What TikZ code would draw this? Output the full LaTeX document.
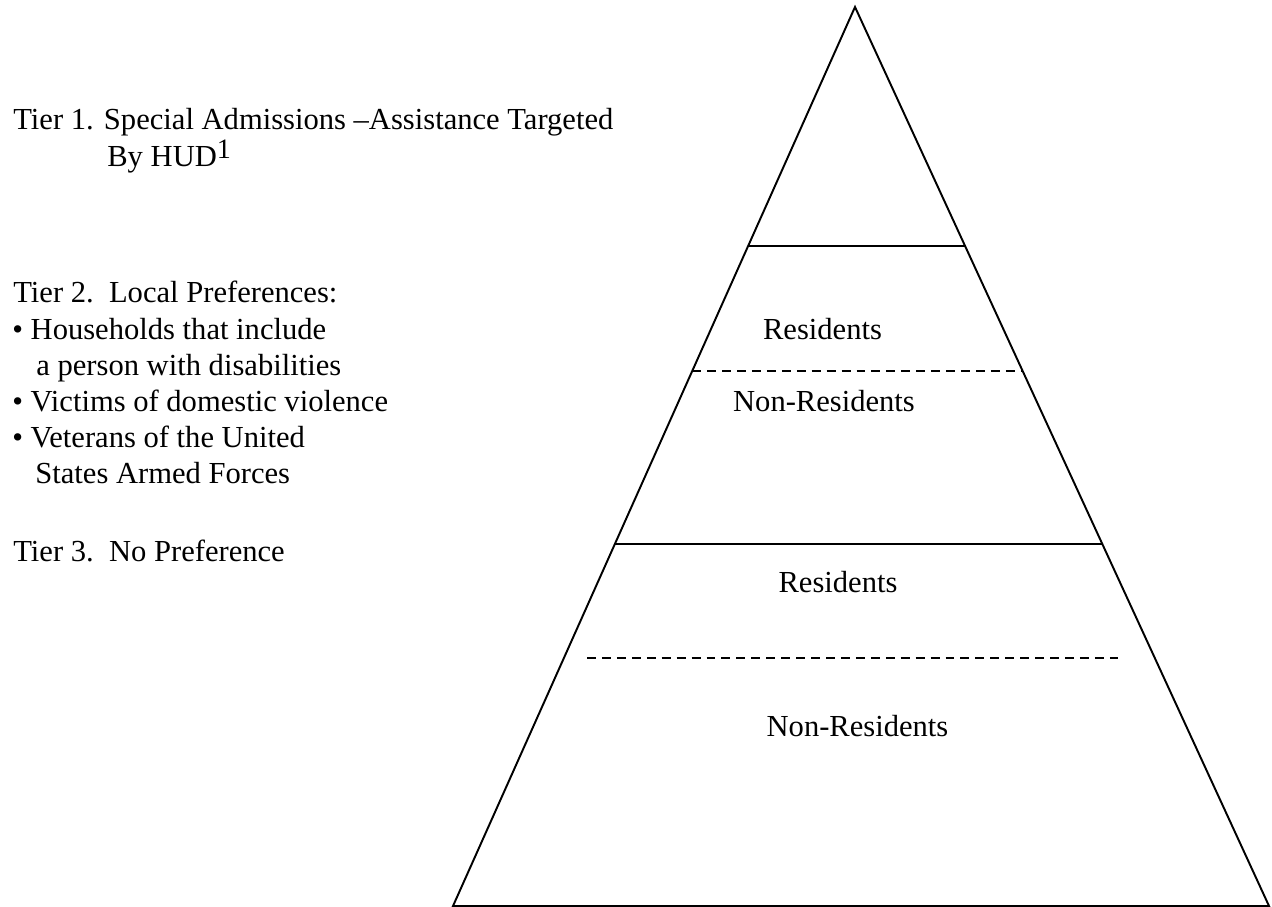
\documentclass[tikz,border=0pt]{standalone}
\usepackage{fontspec}
\setmainfont{Liberation Serif}
\usepackage{tikz}
\usetikzlibrary{calc}
\newcommand{\CorpsTexte}{\fontsize{17.4}{20.9}\selectfont}
\tikzset{
  %% ── Lines ────────────────────────────────────────────────────────────
  %% The outline and the tier borders are solid; the split between
  %% residents and non-residents inside a tier is dashed.
  trait/.style       = {draw=black, line width=1.1pt},
  traitTirets/.style = {draw=black, line width=1.0pt,
                        dash pattern=on 5.1pt off 3.4pt},
  %%
  %% ── Text ─────────────────────────────────────────────────────────────
  legende/.style     = {font=\CorpsTexte, inner sep=0pt, anchor=base west},
  etiquette/.style   = {font=\CorpsTexte, inner sep=0pt, anchor=base},
}

\begin{document}
\begin{tikzpicture}[x=1cm, y=1cm]
\useasboundingbox (0, 0) rectangle (25.44, 18.14);

%% pyramid
\coordinate (sommet) at (17.10, 18.00);
\coordinate (baseG)  at (9.06, 0.02);
\coordinate (baseD)  at (25.38, 0.02);
\draw[trait] (sommet) -- (baseG) -- (baseD) -- cycle;

%% tier borders, cut where they meet the sides
\foreach \t/\style in {0.266/trait, 0.405/traitTirets, 0.597/trait}
  \draw[\style] ($(sommet)!\t!(baseG)$) -- ($(sommet)!\t!(baseD)$);
\coordinate (tiretG) at (11.74, 4.98);
\coordinate (tiretD) at (22.36, 4.98);
\draw[traitTirets] (tiretG) -- (tiretD);

\node[etiquette] (res1)    at (16.45, 11.34) {Residents};
\node[etiquette] (nonRes1) at (16.48, 9.90)  {Non-Residents};
\node[etiquette] (res2)    at (16.76, 6.28)  {Residents};
\node[etiquette] (nonRes2) at (17.15, 3.40)  {Non-Residents};

%% tiers, left column
\node[legende] (tier1)  at (0.26, 15.54) {Tier 1. Special Admissions –Assistance Targeted};
\node[legende] (tier1b) at (2.14, 14.80)
     {By HUD\raisebox{5.1pt}{\fontsize{16}{16}\selectfont 1}};

\node[legende] (tier2) at (0.26, 12.08) {Tier 2.\ \ Local Preferences:};
\foreach \dx/\ligne [count=\i] in {0.24/{\textbullet\ Households that include},
                                   0.72/{a person with disabilities},
                                   0.24/{\textbullet\ Victims of domestic violence},
                                   0.24/{\textbullet\ Veterans of the United},
                                   0.70/{States Armed Forces}}
  \node[legende] (pref\i) at (\dx, 12.06 - 0.72*\i) {\ligne};

\node[legende] (tier3) at (0.26, 6.90) {Tier 3.\ \ No Preference};

\end{tikzpicture}
\end{document}
